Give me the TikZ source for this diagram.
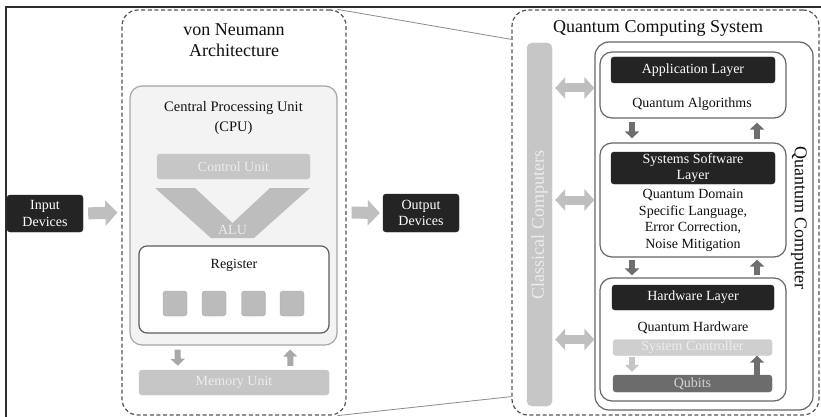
\documentclass[tikz,border=0pt]{standalone}
\usepackage{fontspec}
\setmainfont{Liberation Serif}
\usetikzlibrary{arrows.meta}

\definecolor{ink}{HTML}{0F0F0F}
\definecolor{boxdark}{HTML}{242424}
\definecolor{framec}{HTML}{2E2E2E}
\definecolor{dashc}{HTML}{555555}
\definecolor{cpufill}{HTML}{F3F3F3}
\definecolor{cpuedge}{HTML}{A6A6A6}
\definecolor{unitfill}{HTML}{C6C6C6}
\definecolor{unittext}{HTML}{EDEDED}
\definecolor{alufill}{HTML}{BDBDBD}
\definecolor{regsq}{HTML}{BBBBBB}
\definecolor{edgec}{HTML}{666666}
\definecolor{lightarrow}{HTML}{BFBFBF}
\definecolor{midarrow}{HTML}{A8A8A8}
\definecolor{darkarrow}{HTML}{6E6E6E}
\definecolor{qubitfill}{HTML}{6C6C6C}
\definecolor{zoomc}{HTML}{8A8A8A}

\tikzset{
  body/.style={font=\fontsize{14}{16.5}\selectfont, text=ink, inner sep=0pt, align=center},
  title/.style={font=\fontsize{18}{21}\selectfont, text=ink, inner sep=0pt, align=center},
  darkbox/.style={rectangle, rounded corners=3pt, fill=boxdark, draw=boxdark,
    text=white, inner sep=0pt, align=center, font=\fontsize{14}{16.5}\selectfont},
  greybox/.style={rectangle, rounded corners=3pt, fill=#1, draw=#1,
    text=unittext, inner sep=0pt, align=center, font=\fontsize{14}{16.5}\selectfont},
  dashbox/.style={rectangle, rounded corners=16pt, draw=dashc, line width=1.2pt,
    dash pattern=on 4pt off 2.6pt, inner sep=0pt},
  panel/.style={rectangle, rounded corners=#1, draw=edgec, line width=1.2pt,
    fill=white, inner sep=0pt},
  bigarrow/.style={line width=12pt, draw=lightarrow,
    -{Triangle[length=12pt,width=25pt]}},
  dblarrow/.style={line width=9pt, draw=lightarrow,
    {Triangle[length=10pt,width=21pt]}-{Triangle[length=10pt,width=21pt]}},
  vsmall/.style={line width=6pt, draw=#1, -{Triangle[length=7pt,width=14pt]}},
  zoomline/.style={draw=zoomc, line width=0.8pt},
}

\begin{document}
\begin{tikzpicture}[x=1pt,y=-1pt]
\useasboundingbox (0,0) rectangle (821,417);
\fill[white] (0,0) rectangle (821,417);

% outer frame (only top and left edges fall inside the page)
\draw[framec, line width=1.6pt] (6,425) -- (6,7) -- (830,7);

% ---------------- von Neumann side ----------------
\node[dashbox, minimum width=224pt, minimum height=405pt] (vna) at (234,212.5) {};
\node[title] (vnatitle) at (234,40) {von Neumann\\Architecture};

\node[darkbox, minimum width=76pt, minimum height=37pt] (in) at (45,213.5) {Input\\Devices};
\node[darkbox, minimum width=76pt, minimum height=38pt] (out) at (421,213) {Output\\Devices};

\node[rectangle, rounded corners=12pt, fill=cpufill, draw=cpuedge, line width=1.2pt,
      minimum width=207pt, minimum height=259pt] (cpu) at (233.5,215.5) {};
\node[body, font=\fontsize{14.5}{20}\selectfont] (cputitle) at (233.5,118) {Central Processing Unit\\(CPU)};

\node[greybox=unitfill, minimum width=153pt, minimum height=25pt] (cu) at (233.5,166.5) {Control Unit};

% arithmetic logic unit drawn as a chevron
\fill[alufill] (155,188) -- (195,188) -- (232.5,223) -- (270,188) -- (310,188)
  -- (254,238) -- (211,238) -- cycle;
\node[body, text=unittext] (alu) at (232.5,229.5) {ALU};

\node[panel=8pt, draw=edgec!90!black, minimum width=190pt, minimum height=87pt] (reg) at (234,289.5) {};
\node[body] (regtitle) at (234,265) {Register};
\foreach \i/\xx in {1/175,2/214,3/253.5,4/292}
  \node[rectangle, rounded corners=3pt, fill=regsq, draw=regsq!90!black,
        minimum width=24pt, minimum height=25pt, inner sep=0pt] (sq\i) at (\xx,303.5) {};

\node[greybox=unitfill, minimum width=190pt, minimum height=25pt] (mem) at (234,382.5) {Memory Unit};

\draw[vsmall=midarrow, shorten <=4pt, shorten >=4pt]
  ([xshift=-56pt]cpu.south) -- ([xshift=-56pt]mem.north);
\draw[vsmall=midarrow, shorten <=4pt, shorten >=4pt]
  ([xshift=56.5pt]mem.north) -- ([xshift=56.5pt]cpu.south);

\draw[bigarrow, shorten <=5pt, shorten >=4pt] (in.east) -- (vna.west);
\draw[bigarrow, shorten <=5pt, shorten >=3pt] (vna.east) -- (out.west);

% ---------------- quantum side ----------------
\node[dashbox, minimum width=307pt, minimum height=405pt] (qcs) at (665.5,212.5) {};

% magnification lines between the two systems
\draw[zoomline] ([xshift=-9pt]vna.north east) -- ([yshift=-30pt]qcs.north west);
\draw[zoomline] ([xshift=-9pt]vna.south east) -- ([yshift=19pt]qcs.south west);

\node[title] (qcstitle) at (658,28) {Quantum Computing System};

\node[rectangle, rounded corners=5pt, fill=unitfill, draw=unitfill,
      minimum width=25pt, minimum height=363pt, inner sep=0pt] (bar) at (539.5,224.5) {};
\node[title, text=unittext, rotate=90] (bartext) at (539.5,225) {Classical Computers};

\node[rectangle, rounded corners=14pt, draw=edgec, line width=1.2pt,
      minimum width=218pt, minimum height=368pt, inner sep=0pt] (qc) at (704,226) {};
\node[title, rotate=-90] (qctext) at (799,218) {Quantum Computer};

% application layer
\node[panel=12pt, minimum width=186pt, minimum height=66pt] (app) at (693,85) {};
\node[darkbox, minimum width=164pt, minimum height=26pt] (applayer) at (693,70) {Application Layer};
\node[body] (apptext) at (692,104) {Quantum Algorithms};

% systems software layer
\node[panel=12pt, minimum width=186pt, minimum height=114pt] (sys) at (693,200) {};
\node[darkbox, minimum width=164pt, minimum height=32pt] (syslayer) at (693,168) {Systems Software\\Layer};
\node[body] (systext) at (693,220.5) {Quantum Domain\\Specific Language,\\Error Correction,\\Noise Mitigation};

% hardware layer
\node[panel=12pt, minimum width=186pt, minimum height=123pt] (hw) at (693,339.5) {};
\node[darkbox, minimum width=162pt, minimum height=25pt] (hwlayer) at (693,297.5) {Hardware Layer};
\node[body] (hwtext) at (693,328) {Quantum Hardware};
\node[greybox=unitfill!85!white, minimum width=159pt, minimum height=16pt] (ctrl) at (692.5,347.5) {System Controller};
\node[greybox=qubitfill, text=unittext!90!black, minimum width=159pt, minimum height=17pt] (qub) at (692.5,383.5) {Qubits};

% flow between layers
\draw[vsmall=darkarrow, shorten <=3pt, shorten >=4pt]
  ([xshift=-61pt]app.south) -- ([xshift=-61pt]sys.north);
\draw[vsmall=darkarrow, shorten <=3pt, shorten >=4pt]
  ([xshift=64pt]sys.north) -- ([xshift=64pt]app.south);
\draw[vsmall=darkarrow, shorten <=2pt, shorten >=2pt]
  ([xshift=-61pt]sys.south) -- ([xshift=-61pt]hw.north);
\draw[vsmall=darkarrow, shorten <=2pt, shorten >=2pt]
  ([xshift=64pt]hw.north) -- ([xshift=64pt]sys.south);
\draw[vsmall=unitfill, shorten <=1pt, shorten >=3pt]
  ([xshift=-60.5pt]ctrl.south) -- ([xshift=-60.5pt]qub.north);
\draw[vsmall=darkarrow, shorten <=0pt, shorten >=0pt]
  ([xshift=64.5pt]qub.north) -- ([xshift=64.5pt]ctrl.south);

% links between classical computers and each layer
\draw[dblarrow, shorten <=3pt] (bar.east |- 0,88) -- (qc.west |- 0,88);
\draw[dblarrow, shorten <=3pt] (bar.east |- sys) -- (qc.west |- sys);
\draw[dblarrow, shorten <=3pt] (bar.east |- hw) -- (qc.west |- hw);

\end{tikzpicture}
\end{document}
